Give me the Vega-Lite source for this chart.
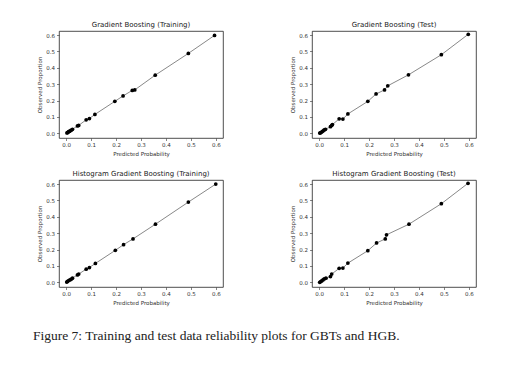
{
  "$schema": "https://vega.github.io/schema/vega-lite/v6.json",
  "background": "white",
  "padding": {"left": 33, "top": 20, "right": 10, "bottom": 10},
  "title": {
    "text": "Figure 7: Training and test data reliability plots for GBTs and HGB.",
    "orient": "bottom",
    "anchor": "start",
    "frame": "group",
    "font": "Liberation Serif",
    "fontSize": 13.5,
    "fontWeight": "normal",
    "color": "#222",
    "offset": 23,
    "dx": -26
  },
  "datasets": {
    "pts": [
      {"panel": "Gradient Boosting (Training)", "order": 1, "p": 0.003, "o": 0.002},
      {"panel": "Gradient Boosting (Training)", "order": 1, "p": 0.005, "o": 0.004},
      {"panel": "Gradient Boosting (Training)", "order": 1, "p": 0.008, "o": 0.007},
      {"panel": "Gradient Boosting (Training)", "order": 1, "p": 0.010, "o": 0.010},
      {"panel": "Gradient Boosting (Training)", "order": 1, "p": 0.013, "o": 0.012},
      {"panel": "Gradient Boosting (Training)", "order": 1, "p": 0.016, "o": 0.015},
      {"panel": "Gradient Boosting (Training)", "order": 1, "p": 0.020, "o": 0.019},
      {"panel": "Gradient Boosting (Training)", "order": 1, "p": 0.025, "o": 0.024},
      {"panel": "Gradient Boosting (Training)", "order": 1, "p": 0.045, "o": 0.045},
      {"panel": "Gradient Boosting (Training)", "order": 1, "p": 0.050, "o": 0.048},
      {"panel": "Gradient Boosting (Training)", "order": 1, "p": 0.080, "o": 0.082},
      {"panel": "Gradient Boosting (Training)", "order": 1, "p": 0.093, "o": 0.090},
      {"panel": "Gradient Boosting (Training)", "order": 1, "p": 0.115, "o": 0.115},
      {"panel": "Gradient Boosting (Training)", "order": 1, "p": 0.195, "o": 0.195},
      {"panel": "Gradient Boosting (Training)", "order": 1, "p": 0.228, "o": 0.228},
      {"panel": "Gradient Boosting (Training)", "order": 1, "p": 0.265, "o": 0.262},
      {"panel": "Gradient Boosting (Training)", "order": 1, "p": 0.275, "o": 0.265},
      {"panel": "Gradient Boosting (Training)", "order": 1, "p": 0.357, "o": 0.355},
      {"panel": "Gradient Boosting (Training)", "order": 1, "p": 0.490, "o": 0.488},
      {"panel": "Gradient Boosting (Training)", "order": 1, "p": 0.595, "o": 0.598},

      {"panel": "Gradient Boosting (Test)", "order": 2, "p": 0.002, "o": 0.001},
      {"panel": "Gradient Boosting (Test)", "order": 2, "p": 0.005, "o": 0.003},
      {"panel": "Gradient Boosting (Test)", "order": 2, "p": 0.008, "o": 0.006},
      {"panel": "Gradient Boosting (Test)", "order": 2, "p": 0.012, "o": 0.010},
      {"panel": "Gradient Boosting (Test)", "order": 2, "p": 0.016, "o": 0.015},
      {"panel": "Gradient Boosting (Test)", "order": 2, "p": 0.020, "o": 0.020},
      {"panel": "Gradient Boosting (Test)", "order": 2, "p": 0.025, "o": 0.024},
      {"panel": "Gradient Boosting (Test)", "order": 2, "p": 0.045, "o": 0.040},
      {"panel": "Gradient Boosting (Test)", "order": 2, "p": 0.050, "o": 0.048},
      {"panel": "Gradient Boosting (Test)", "order": 2, "p": 0.053, "o": 0.053},
      {"panel": "Gradient Boosting (Test)", "order": 2, "p": 0.080, "o": 0.088},
      {"panel": "Gradient Boosting (Test)", "order": 2, "p": 0.095, "o": 0.087},
      {"panel": "Gradient Boosting (Test)", "order": 2, "p": 0.115, "o": 0.118},
      {"panel": "Gradient Boosting (Test)", "order": 2, "p": 0.195, "o": 0.195},
      {"panel": "Gradient Boosting (Test)", "order": 2, "p": 0.228, "o": 0.240},
      {"panel": "Gradient Boosting (Test)", "order": 2, "p": 0.262, "o": 0.265},
      {"panel": "Gradient Boosting (Test)", "order": 2, "p": 0.275, "o": 0.290},
      {"panel": "Gradient Boosting (Test)", "order": 2, "p": 0.358, "o": 0.357},
      {"panel": "Gradient Boosting (Test)", "order": 2, "p": 0.490, "o": 0.480},
      {"panel": "Gradient Boosting (Test)", "order": 2, "p": 0.598, "o": 0.605},

      {"panel": "Histogram Gradient Boosting (Training)", "order": 3, "p": 0.002, "o": 0.001},
      {"panel": "Histogram Gradient Boosting (Training)", "order": 3, "p": 0.005, "o": 0.005},
      {"panel": "Histogram Gradient Boosting (Training)", "order": 3, "p": 0.010, "o": 0.010},
      {"panel": "Histogram Gradient Boosting (Training)", "order": 3, "p": 0.015, "o": 0.014},
      {"panel": "Histogram Gradient Boosting (Training)", "order": 3, "p": 0.020, "o": 0.019},
      {"panel": "Histogram Gradient Boosting (Training)", "order": 3, "p": 0.025, "o": 0.025},
      {"panel": "Histogram Gradient Boosting (Training)", "order": 3, "p": 0.045, "o": 0.045},
      {"panel": "Histogram Gradient Boosting (Training)", "order": 3, "p": 0.050, "o": 0.050},
      {"panel": "Histogram Gradient Boosting (Training)", "order": 3, "p": 0.080, "o": 0.080},
      {"panel": "Histogram Gradient Boosting (Training)", "order": 3, "p": 0.093, "o": 0.090},
      {"panel": "Histogram Gradient Boosting (Training)", "order": 3, "p": 0.117, "o": 0.115},
      {"panel": "Histogram Gradient Boosting (Training)", "order": 3, "p": 0.197, "o": 0.195},
      {"panel": "Histogram Gradient Boosting (Training)", "order": 3, "p": 0.230, "o": 0.230},
      {"panel": "Histogram Gradient Boosting (Training)", "order": 3, "p": 0.268, "o": 0.265},
      {"panel": "Histogram Gradient Boosting (Training)", "order": 3, "p": 0.358, "o": 0.355},
      {"panel": "Histogram Gradient Boosting (Training)", "order": 3, "p": 0.490, "o": 0.490},
      {"panel": "Histogram Gradient Boosting (Training)", "order": 3, "p": 0.600, "o": 0.600},

      {"panel": "Histogram Gradient Boosting (Test)", "order": 4, "p": 0.002, "o": 0.000},
      {"panel": "Histogram Gradient Boosting (Test)", "order": 4, "p": 0.006, "o": 0.004},
      {"panel": "Histogram Gradient Boosting (Test)", "order": 4, "p": 0.010, "o": 0.008},
      {"panel": "Histogram Gradient Boosting (Test)", "order": 4, "p": 0.015, "o": 0.014},
      {"panel": "Histogram Gradient Boosting (Test)", "order": 4, "p": 0.020, "o": 0.020},
      {"panel": "Histogram Gradient Boosting (Test)", "order": 4, "p": 0.027, "o": 0.025},
      {"panel": "Histogram Gradient Boosting (Test)", "order": 4, "p": 0.045, "o": 0.035},
      {"panel": "Histogram Gradient Boosting (Test)", "order": 4, "p": 0.050, "o": 0.050},
      {"panel": "Histogram Gradient Boosting (Test)", "order": 4, "p": 0.080, "o": 0.085},
      {"panel": "Histogram Gradient Boosting (Test)", "order": 4, "p": 0.095, "o": 0.087},
      {"panel": "Histogram Gradient Boosting (Test)", "order": 4, "p": 0.115, "o": 0.117},
      {"panel": "Histogram Gradient Boosting (Test)", "order": 4, "p": 0.195, "o": 0.193},
      {"panel": "Histogram Gradient Boosting (Test)", "order": 4, "p": 0.230, "o": 0.240},
      {"panel": "Histogram Gradient Boosting (Test)", "order": 4, "p": 0.265, "o": 0.265},
      {"panel": "Histogram Gradient Boosting (Test)", "order": 4, "p": 0.270, "o": 0.290},
      {"panel": "Histogram Gradient Boosting (Test)", "order": 4, "p": 0.360, "o": 0.355},
      {"panel": "Histogram Gradient Boosting (Test)", "order": 4, "p": 0.490, "o": 0.480},
      {"panel": "Histogram Gradient Boosting (Test)", "order": 4, "p": 0.597, "o": 0.605}
    ]
  },
  "data": {"name": "pts"},
  "facet": {
    "field": "panel",
    "type": "nominal",
    "sort": {"field": "order"},
    "header": {
      "title": null,
      "labelFont": "DejaVu Sans",
      "labelFontSize": 7,
      "labelColor": "#222",
      "labelPadding": 3
    }
  },
  "columns": 2,
  "spacing": {"row": 12, "column": 66},
  "resolve": {"axis": {"x": "independent", "y": "independent"}},
  "spec": {
    "width": 164,
    "height": 107,
    "encoding": {
      "x": {
        "field": "p",
        "type": "quantitative",
        "title": "Predicted Probability",
        "scale": {"domain": [-0.029, 0.629], "nice": false, "zero": false},
        "axis": {"values": [0, 0.1, 0.2, 0.3, 0.4, 0.5, 0.6], "format": ".1f", "labelOverlap": false, "tickCount": 7}
      },
      "y": {
        "field": "o",
        "type": "quantitative",
        "title": "Observed Proportion",
        "scale": {"domain": [-0.029, 0.625], "nice": false, "zero": false},
        "axis": {"values": [0, 0.1, 0.2, 0.3, 0.4, 0.5, 0.6], "format": ".1f", "labelOverlap": false, "tickCount": 7}
      }
    },
    "layer": [
      {
        "mark": {"type": "line", "color": "#555", "strokeWidth": 0.7},
        "encoding": {
          "order": {"field": "p", "type": "quantitative"}
        }
      },
      {
        "mark": {"type": "circle", "color": "black", "opacity": 1, "size": 14},
        "encoding": {}
      }
    ]
  },
  "config": {
    "font": "DejaVu Sans",
    "view": {"stroke": "#222", "strokeWidth": 0.8},
    "axis": {
      "grid": false,
      "domain": false,
      "ticks": true,
      "tickSize": 2.5,
      "tickColor": "#333",
      "tickWidth": 0.6,
      "labelFont": "DejaVu Sans",
      "labelFontSize": 5.5,
      "labelColor": "#333",
      "labelPadding": 2,
      "labelOverlap": false,
      "labelFlush": false,
      "labelBound": false,
      "titleFont": "DejaVu Sans",
      "titleFontSize": 5.5,
      "titleFontWeight": "normal",
      "titleColor": "#333",
      "titlePadding": 3
    }
  }
}
